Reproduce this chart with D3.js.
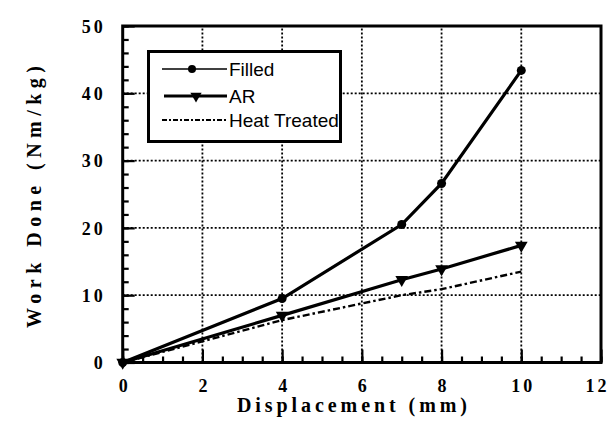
<!DOCTYPE html>
<html><head><meta charset="utf-8">
<script src="https://cdn.jsdelivr.net/npm/d3@7/dist/d3.min.js"></script>
<style>body{margin:0;background:#fff}</style>
</head><body><svg id="c" width="612" height="438"></svg>
<script>
const displacement = [0, 4, 7, 8, 10];
const filled = [0, 9.5, 20.5, 26.6, 43.4];
const ar = [0, 7.0, 12.3, 13.9, 17.4];
const heatTreated = [0, 6.3, 10.0, 10.9, 13.5];
const xTicks = [0, 2, 4, 6, 8, 10, 12];
const yTicks = [0, 10, 20, 30, 40, 50];
const legendLabels = ["Filled", "AR", "Heat Treated"];

const SERIF = "'Liberation Serif', Tinos, 'Times New Roman', Times, serif";
const SANS = "'Liberation Sans', Arial, Helvetica, sans-serif";

const svg = d3.select("#c");
const L = 122.7, R = 601, T = 26, B = 362.5;
const x = d3.scaleLinear().domain([0, 12]).range([L, R]);
const y = d3.scaleLinear().domain([0, 50]).range([B, T]);

// dotted grid
const grid = svg.append("g").attr("stroke", "#000").attr("stroke-width", 1.8).attr("stroke-dasharray", "2,2");
xTicks.filter(d => d > 0 && d < 12).forEach(d => grid.append("line").attr("x1", x(d)).attr("x2", x(d)).attr("y1", B).attr("y2", T));
yTicks.filter(d => d > 0 && d < 50).forEach(d => grid.append("line").attr("y1", y(d)).attr("y2", y(d)).attr("x1", L).attr("x2", R));

// inward ticks
const xMinor = d3.range(0, 12.01, 0.5);
const yMinor = d3.range(0, 50.01, 2);
const ax1 = svg.append("g").attr("transform", `translate(0,${B})`)
  .call(d3.axisBottom(x).tickValues(xMinor).tickSizeInner(-6).tickSizeOuter(0).tickFormat(""));
const ax2 = svg.append("g").attr("transform", `translate(0,${B})`)
  .call(d3.axisBottom(x).tickValues(xTicks).tickSizeInner(-13).tickSizeOuter(0).tickFormat(""));
const ay1 = svg.append("g").attr("transform", `translate(${L},0)`)
  .call(d3.axisLeft(y).tickValues(yMinor).tickSizeInner(-6).tickSizeOuter(0).tickFormat(""));
const ay2 = svg.append("g").attr("transform", `translate(${L},0)`)
  .call(d3.axisLeft(y).tickValues(yTicks).tickSizeInner(-12).tickSizeOuter(0).tickFormat(""));
[ax1, ax2, ay1, ay2].forEach(a => { a.select(".domain").remove(); a.selectAll("line").attr("stroke", "#000").attr("stroke-width", 2.2); });

// tick labels
const lx = svg.append("g").attr("transform", `translate(0,${B})`)
  .call(d3.axisBottom(x).tickValues(xTicks).tickSize(0).tickPadding(0));
lx.select(".domain").remove();
lx.attr("font-family", SERIF).attr("font-size", 18).attr("font-weight", "bold");
lx.selectAll("text").attr("y", 29).attr("dy", 0).attr("fill", "#000")
  .attr("letter-spacing", "3px").attr("dx", d => d === 12 ? -4 : 1.5);
const ly = svg.append("g").attr("transform", `translate(${L},0)`)
  .call(d3.axisLeft(y).tickValues(yTicks).tickSize(0).tickPadding(0));
ly.select(".domain").remove();
ly.attr("font-family", SERIF).attr("font-size", 18).attr("font-weight", "bold");
ly.selectAll("text").attr("x", -17).attr("dy", "0.34em").attr("fill", "#000").attr("letter-spacing", "3px");

// frame
svg.append("rect").attr("x", L).attr("y", T).attr("width", R - L).attr("height", B - T)
  .attr("fill", "none").attr("stroke", "#000").attr("stroke-width", 3);

// series
const line = d3.line().x((d, i) => x(displacement[i])).y(d => y(d));
svg.append("path").datum(heatTreated).attr("d", line).attr("fill", "none").attr("stroke", "#000")
  .attr("stroke-width", 2.4).attr("stroke-dasharray", "7,3,2.5,3");
svg.append("path").datum(ar).attr("d", line).attr("fill", "none").attr("stroke", "#000").attr("stroke-width", 3.2);
svg.append("path").datum(filled).attr("d", line).attr("fill", "none").attr("stroke", "#000").attr("stroke-width", 3.2);
svg.selectAll(".pf").data(filled).enter().append("circle")
  .attr("cx", (d, i) => x(displacement[i])).attr("cy", d => y(d)).attr("r", 4.5).attr("fill", "#000");
const tri = d3.symbol().type(d3.symbolTriangle).size(70);
svg.selectAll(".pa").data(ar).enter().append("path").attr("d", tri)
  .attr("transform", (d, i) => `translate(${x(displacement[i])},${y(d)}) rotate(180)`).attr("fill", "#000");

// legend
const lg = svg.append("g");
lg.append("rect").attr("x", 148.5).attr("y", 51.5).attr("width", 192).attr("height", 90)
  .attr("fill", "#fff").attr("stroke", "#000").attr("stroke-width", 3);
const ys = [69, 96, 120];
lg.append("line").attr("x1", 162).attr("x2", 227).attr("y1", ys[0]).attr("y2", ys[0]).attr("stroke", "#000").attr("stroke-width", 1.6);
lg.append("circle").attr("cx", 192).attr("cy", ys[0]).attr("r", 4).attr("fill", "#000");
lg.append("line").attr("x1", 164).attr("x2", 227).attr("y1", ys[1]).attr("y2", ys[1]).attr("stroke", "#000").attr("stroke-width", 3.2);
lg.append("path").attr("d", d3.symbol().type(d3.symbolTriangle).size(55)).attr("transform", `translate(196,${ys[1]}) rotate(180)`).attr("fill", "#000");
lg.append("line").attr("x1", 162).attr("x2", 227).attr("y1", ys[2]).attr("y2", ys[2]).attr("stroke", "#000").attr("stroke-width", 2).attr("stroke-dasharray", "5,2,2,2");
lg.selectAll("text.l").data(legendLabels).enter().append("text")
  .attr("x", 229).attr("y", (d, i) => ys[i] + 7).text(d => d)
  .attr("font-family", SANS).attr("font-size", 19).attr("fill", "#000");

// axis titles
svg.append("text").attr("x", 352).attr("y", 412).attr("text-anchor", "middle")
  .attr("font-family", SERIF).attr("font-weight", "bold")
  .attr("font-size", 20).attr("textLength", 230).attr("lengthAdjust", "spacing").text("Displacement  (mm)");
svg.append("text").attr("transform", "translate(41,197) rotate(-90)").attr("text-anchor", "middle")
  .attr("font-family", SERIF).attr("font-weight", "bold")
  .attr("font-size", 20).attr("textLength", 262).attr("lengthAdjust", "spacing").text("Work  Done  (Nm/kg)");
</script></body></html>
